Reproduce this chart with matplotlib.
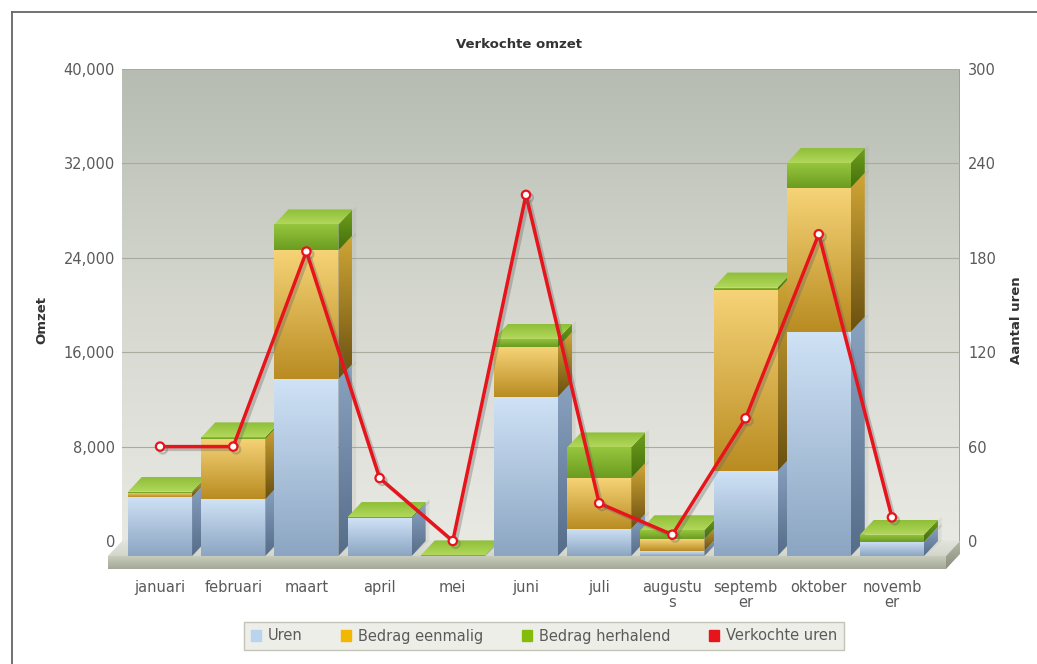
import numpy as np
import matplotlib
matplotlib.use('Agg')
import matplotlib.pyplot as plt
from matplotlib.colors import LinearSegmentedColormap
from matplotlib.patches import Polygon, Patch
from matplotlib.lines import Line2D
from matplotlib.ticker import StrMethodFormatter
import matplotlib.patheffects as pe

# Monthly figures
maanden = ['januari', 'februari', 'maart', 'april', 'mei', 'juni', 'juli',
           'augustu\ns', 'septemb\ner', 'oktober', 'novemb\ner']
uren = [5000, 4800, 15000, 3200, 0, 13500, 2300, 420, 7200, 19000, 1200]
bedrag_eenmalig = [350, 5100, 10900, 0, 0, 4200, 4300, 1000, 15300, 12200, 0]
bedrag_herhalend = [100, 150, 2200, 100, 50, 700, 2600, 760, 250, 2100, 600]
verkochte_uren = [60, 60, 184, 40, 0, 220, 24, 4, 78, 195, 15]

omzet_ticks = [0, 8000, 16000, 24000, 32000, 40000]
uren_ticks = [0, 60, 120, 180, 240, 300]

# colours: (front top, front bottom, side top, side bottom)
kleuren = {
    'Uren': ('#cfe2f6', '#8ba5c2', '#8aa3c0', '#566d8a'),
    'Bedrag eenmalig': ('#f6d377', '#b98c22', '#d0a636', '#6a5010'),
    'Bedrag herhalend': ('#96c63e', '#6c9c20', '#6e9e1c', '#44700c'),
}
top_groen = ('#b2d85c', '#8ebe38')
tekst = '#5a5a5a'

W, H = 1037, 664
fig = plt.figure(figsize=(W / 100, H / 100), dpi=100)
fig.patch.set_facecolor('white')

# wall spans 69..541 px, the floor slab hangs below it down to 570 px
ax_l, ax_r, ax_t, ax_0, ax_b = 122, 960, 69, 541, 570
ymax = 40000
px_y = (ax_0 - ax_t) / ymax
ymin = -(ax_b - ax_0) / px_y
ax = fig.add_axes([ax_l / W, 1 - ax_b / H, (ax_r - ax_l) / W, (ax_b - ax_t) / H])
ax.set_facecolor('none')
xlim = (-0.52, 10.93)

# depth of the 3d effect in data units
px_x = (ax_r - ax_l) / (xlim[1] - xlim[0])
dx = 14 / px_x
dy = 15 / px_y
slab = 13 / px_y


def grad_poly(verts, c_top, c_bot, z):
    verts = np.asarray(verts)
    poly = Polygon(verts, closed=True, facecolor='none', edgecolor='none',
                   transform=ax.transData)
    cmap = LinearSegmentedColormap.from_list('g', [c_bot, c_top])
    g = np.linspace(1, 0, 128).reshape(-1, 1)
    im = ax.imshow(g, extent=(verts[:, 0].min(), verts[:, 0].max(),
                              verts[:, 1].min(), verts[:, 1].max()),
                   aspect='auto', cmap=cmap, vmin=0, vmax=1, origin='upper',
                   interpolation='bilinear', zorder=z)
    im.set_clip_path(poly)
    im.set_clip_box(fig.bbox)


xL, xR = xlim

# wall gradient
wall = LinearSegmentedColormap.from_list('wall', ['#e9e9e3', '#d6d8d0', '#b6bcb2'])
ax.imshow(np.linspace(1, 0, 256).reshape(-1, 1), extent=(xL, xR, 0, ymax),
          aspect='auto', cmap=wall, vmin=0, vmax=1, origin='upper', zorder=-2)
ax.plot([xR, xR], [0, ymax], color='#9a9e92', lw=2, zorder=-1)

# floor
grad_poly([(xL, 0), (xR, 0), (xR - dx, -dy), (xL - dx, -dy)], '#e2e4dc', '#d2d6ca', 0.6)
grad_poly([(xL - dx, -dy), (xR - dx, -dy), (xR - dx, -dy - slab), (xL - dx, -dy - slab)],
          '#c8ccbc', '#a2a896', 0.6)
grad_poly([(xR - dx, -dy), (xR, 0), (xR, -slab), (xR - dx, -dy - slab)],
          '#b4b8a6', '#8a8f7e', 0.6)

x = np.arange(len(maanden))
bw = 0.875
series = [('Uren', uren), ('Bedrag eenmalig', bedrag_eenmalig),
          ('Bedrag herhalend', bedrag_herhalend)]
onder = np.zeros(len(maanden))
for k, (naam, vals) in enumerate(series):
    vals = np.array(vals, dtype=float)
    ft, fb, st, sb = kleuren[naam]
    bars = ax.bar(x, vals, bottom=onder - dy, width=bw, color='none',
                  linewidth=0, zorder=1)
    for i, r in enumerate(bars):
        x0, x1 = r.get_x(), r.get_x() + r.get_width()
        y0, y1 = r.get_y(), r.get_y() + r.get_height()
        z = 2 + i * 0.1 + k * 0.01
        # soft shadow behind the block
        ax.add_patch(Polygon([(x1, y0), (x1 + dx + 0.05, y0 + dy), (x1 + dx + 0.05, y1 + dy + 250),
                              (x1, y1)], closed=True, facecolor='#808878', alpha=0.12,
                             edgecolor='none', zorder=1.5))
        if y1 > y0:
            grad_poly([(x0, y0), (x1, y0), (x1, y1), (x0, y1)], ft, fb, z)
            grad_poly([(x1, y0), (x1 + dx, y0 + dy), (x1 + dx, y1 + dy), (x1, y1)],
                      st, sb, z)
        if naam == 'Bedrag herhalend':
            grad_poly([(x0, y1), (x1, y1), (x1 + dx, y1 + dy), (x0 + dx, y1 + dy)],
                      top_groen[1], top_groen[0], z + 0.005)
    onder += vals

ax.set_xlim(xlim)
ax.set_ylim(ymin, ymax)
ax.set_yticks(omzet_ticks)
ax.yaxis.set_major_formatter(StrMethodFormatter('{x:,.0f}'))
ax.yaxis.grid(True, color='#a8ac9e', lw=0.8)
ax.set_axisbelow(True)
ax.set_xticks(x)
ax.set_xticklabels(maanden, linespacing=1.05)
ax.tick_params(axis='x', length=0, pad=7, labelsize=10.5, labelcolor=tekst)
ax.tick_params(axis='y', length=0, pad=5, labelsize=10.5, labelcolor=tekst)
for s in ax.spines.values():
    s.set_visible(False)

# hours on the right axis
ax2 = ax.twinx()
ax2.set_ylim(ymin * 300 / ymax, 300)
ax2.set_yticks(uren_ticks)
ax2.tick_params(axis='y', length=0, pad=6, labelsize=10.5, labelcolor=tekst)
for s in ax2.spines.values():
    s.set_visible(False)
ax2.plot(x, verkochte_uren, color='#e8141c', lw=2.5, marker='o', ms=6,
         mfc='white', mec='#e8141c', mew=1.6, zorder=5,
         path_effects=[pe.SimpleLineShadow(offset=(2, -2), shadow_color='#666666', alpha=0.35),
                       pe.Normal()])

fig.text(0.5, 1 - 44 / H, 'Verkochte omzet', ha='center', va='center',
         fontsize=9.5, fontweight='bold', color='#333333')
fig.text(42 / W, 1 - 320 / H, 'Omzet', rotation=90, ha='center', va='center',
         fontsize=9.5, fontweight='bold', color='#333333')
fig.text(1017 / W, 1 - 320 / H, 'Aantal uren', rotation=90, ha='center', va='center',
         fontsize=9.5, fontweight='bold', color='#333333')

handles = [Patch(color='#b8d4ee'), Patch(color='#f2b800'),
           Patch(color='#84bc0c'), Patch(color='#e8141c')]
labels = ['Uren', 'Bedrag eenmalig', 'Bedrag herhalend', 'Verkochte uren']
leg = fig.legend(handles, labels, loc='center', bbox_to_anchor=(544 / W, 1 - 636 / H),
                 ncol=4, fontsize=10.5, handlelength=0.7, handleheight=0.7,
                 handletextpad=0.5, columnspacing=2.6, borderpad=0.45,
                 fancybox=False, framealpha=1)
leg.get_frame().set_facecolor('#eeeee8')
leg.get_frame().set_edgecolor('#c2c4b8')
for t in leg.get_texts():
    t.set_color(tekst)

# outer frame
fig.add_artist(Line2D([12 / W, 12 / W], [0, 1 - 12 / H], transform=fig.transFigure,
                      color='#666666', lw=1.3))
fig.add_artist(Line2D([12 / W, 1], [1 - 12 / H, 1 - 12 / H], transform=fig.transFigure,
                      color='#666666', lw=1.3))

fig.savefig('out.png', dpi=100)
